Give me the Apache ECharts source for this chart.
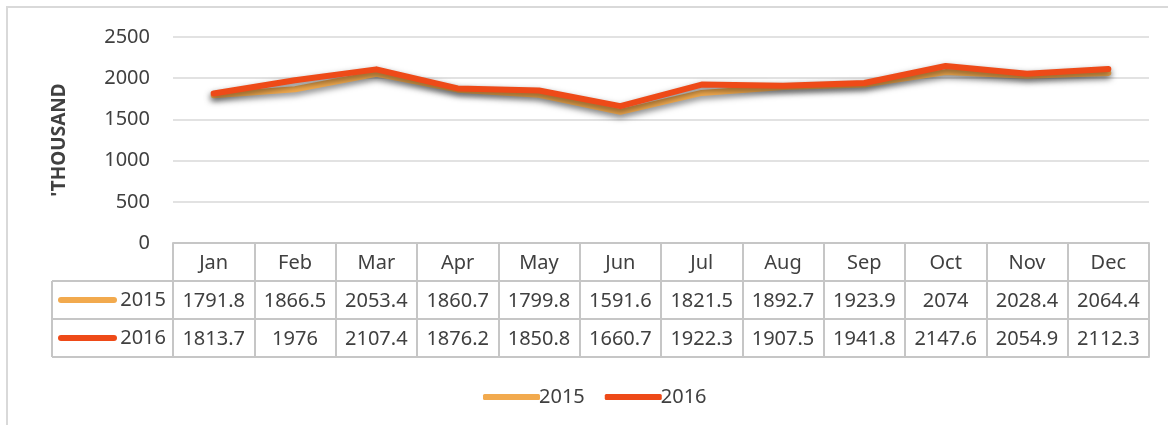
<!DOCTYPE html>
<html>
<head>
<meta charset="utf-8">
<title>Monthly totals 2015–2016</title>
<script src="https://cdn.jsdelivr.net/npm/echarts@6/dist/echarts.min.js"></script>
<style>
  html, body { margin: 0; padding: 0; background: #ffffff; }
  #chart { width: 1168px; height: 425px; }
</style>
</head>
<body>
<div id="chart"></div>
<script>
// Chart data
const months = ['Jan', 'Feb', 'Mar', 'Apr', 'May', 'Jun', 'Jul', 'Aug', 'Sep', 'Oct', 'Nov', 'Dec'];
const seriesNames = ['2015', '2016'];
const values2015 = [1791.8, 1866.5, 2053.4, 1860.7, 1799.8, 1591.6, 1821.5, 1892.7, 1923.9, 2074, 2028.4, 2064.4];
const values2016 = [1813.7, 1976, 2107.4, 1876.2, 1850.8, 1660.7, 1922.3, 1907.5, 1941.8, 2147.6, 2054.9, 2112.3];
const yAxisTitle = "'THOUSAND";

// Styling / layout
const FONT = 'Noto Sans';
const TEXT = '#404040';
const GRID_LINE = '#d9d9d9';
const TABLE_LINE = '#c6c6c6';
const COLORS = ['#f2aa4e', '#ee4a18'];
const PLOT = { left: 173, right: 19, top: 37, bottom: 182 };
const ROW_H = 38;
const TABLE_TOP = 425 - PLOT.bottom;       // y of the value axis zero line
const LABEL_COL_X = 52;                    // left edge of the row-label column

const chart = echarts.init(document.getElementById('chart'), null, { renderer: 'canvas' });

// Table rows as extra category axes under the plot
function tableAxis(data, offset, showLabel) {
  return {
    type: 'category',
    data: data,
    position: 'bottom',
    offset: offset,
    boundaryGap: true,
    axisLine: { show: true, lineStyle: { color: TABLE_LINE, width: 2 } },
    axisTick: { show: false },
    axisLabel: {
      show: showLabel, interval: 0, margin: 10,
      fontFamily: FONT, fontSize: 20, color: TEXT
    },
    splitLine: { show: false }
  };
}

const headerAxis = tableAxis(months, 0, true);
headerAxis.axisTick = {
  show: true, interval: 0, length: ROW_H * 3,
  lineStyle: { color: TABLE_LINE, width: 2 }
};

const lineSeries = [values2015, values2016].map((vals, i) => ({
  name: seriesNames[i],
  type: 'line',
  xAxisIndex: 0,
  data: vals,
  symbol: 'none',
  z: 3 + i,
  itemStyle: { color: COLORS[i] },
  lineStyle: {
    color: COLORS[i], width: 6, cap: 'round', join: 'round',
    shadowColor: 'rgba(0,0,0,0.5)', shadowBlur: 6, shadowOffsetY: 3
  }
}));

// Row-label column: legend keys and names for each table row
const labelColumn = [];
[1, 2, 3].forEach(r => {
  labelColumn.push({
    type: 'line',
    shape: { x1: LABEL_COL_X, y1: TABLE_TOP + ROW_H * r, x2: PLOT.left, y2: TABLE_TOP + ROW_H * r },
    style: { stroke: TABLE_LINE, lineWidth: 2 }
  });
});
labelColumn.push({
  type: 'line',
  shape: { x1: LABEL_COL_X, y1: TABLE_TOP + ROW_H, x2: LABEL_COL_X, y2: TABLE_TOP + ROW_H * 3 },
  style: { stroke: TABLE_LINE, lineWidth: 2 }
});
seriesNames.forEach((name, i) => {
  const cy = TABLE_TOP + ROW_H * (i + 1) + ROW_H / 2;
  labelColumn.push({
    type: 'line',
    shape: { x1: LABEL_COL_X + 9, y1: cy, x2: LABEL_COL_X + 62, y2: cy },
    style: { stroke: COLORS[i], lineWidth: 6, lineCap: 'round' }
  });
  labelColumn.push({
    type: 'text',
    x: PLOT.left - 7, y: cy,
    style: {
      text: name, fill: TEXT, font: '20px "' + FONT + '"',
      align: 'right', verticalAlign: 'middle'
    }
  });
});

const option = {
  backgroundColor: '#ffffff',
  animation: false,
  grid: { left: PLOT.left, right: PLOT.right, top: PLOT.top, bottom: PLOT.bottom },
  xAxis: [
    headerAxis,
    tableAxis(values2015.map(String), ROW_H, true),
    tableAxis(values2016.map(String), ROW_H * 2, true),
    tableAxis(months, ROW_H * 3, false)
  ],
  yAxis: {
    type: 'value',
    min: 0, max: 2500, interval: 500,
    name: yAxisTitle,
    nameLocation: 'middle',
    nameGap: 104,
    nameTextStyle: { fontFamily: FONT, fontSize: 19, fontWeight: 'bold', color: TEXT },
    axisLine: { show: false },
    axisTick: { show: false },
    axisLabel: {
      margin: 23, fontFamily: FONT, fontSize: 20, color: TEXT,
      formatter: v => String(v)
    },
    splitLine: { lineStyle: { color: GRID_LINE, width: 1.5 } }
  },
  legend: {
    data: seriesNames,
    left: 478, top: 382,
    icon: 'roundRect',
    itemWidth: 57, itemHeight: 6,
    itemGap: 20,
    itemStyle: { shadowBlur: 0, shadowOffsetY: 0 },
    textStyle: { fontFamily: FONT, fontSize: 20, color: TEXT, padding: [0, 0, 0, -6] }
  },
  series: lineSeries,
  graphic: [
    {
      type: 'rect',
      shape: { x: 7, y: 7, width: 1200, height: 440 },
      style: { fill: 'none', stroke: GRID_LINE, lineWidth: 2 },
      z: -1
    }
  ].concat(labelColumn)
};

chart.setOption(option);
</script>
</body>
</html>
